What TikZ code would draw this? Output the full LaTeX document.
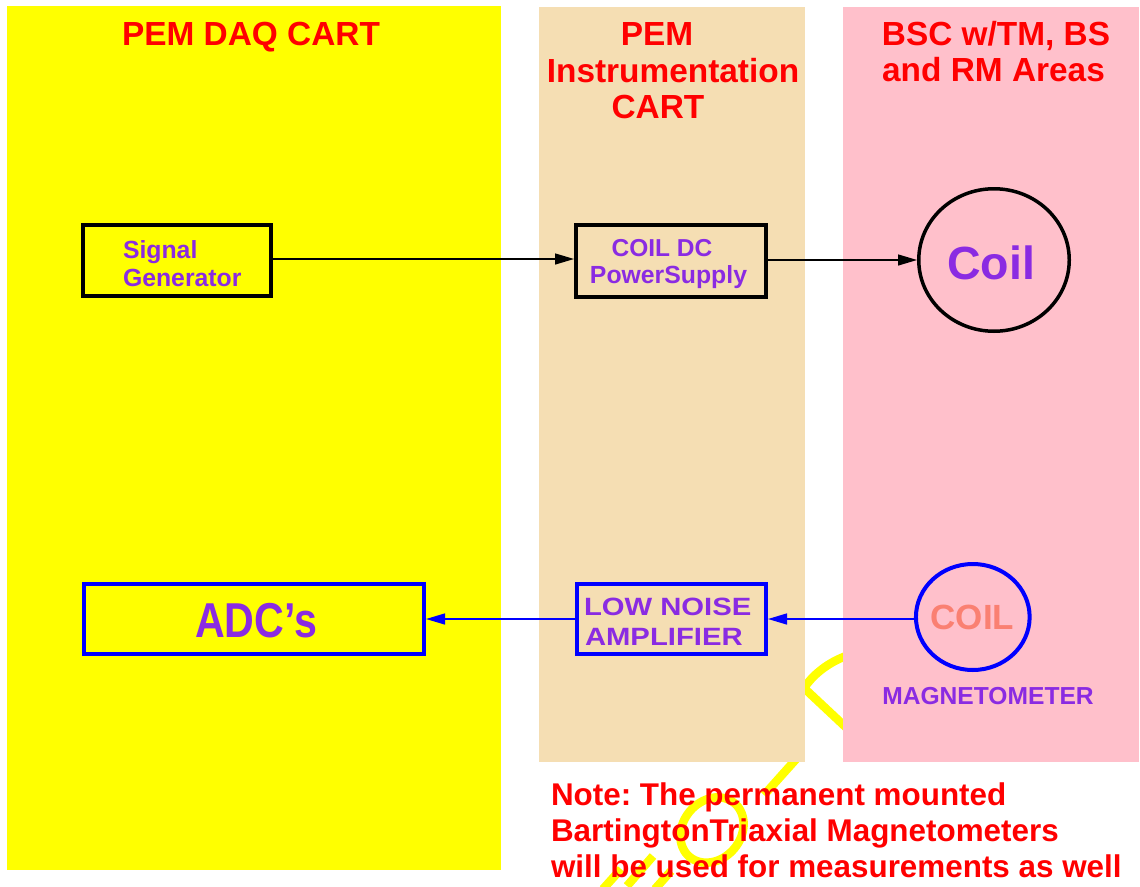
\documentclass[tikz,border=0pt]{standalone}
\usepackage{fontspec}
\setmainfont{Liberation Sans}
\usetikzlibrary{arrows.meta,shapes.geometric}
\definecolor{yel}{RGB}{255,255,0}
\definecolor{tanbg}{RGB}{245,222,179}
\definecolor{pinkbg}{RGB}{255,192,203}
\definecolor{purp}{RGB}{138,43,226}
\definecolor{salm}{RGB}{250,128,114}
\newcommand\fsz[1]{\fontsize{#1}{#1}\selectfont\bfseries}
\frenchspacing
\begin{document}
\begin{tikzpicture}[x=1pt,y=-1pt,
  txt/.style={inner sep=0pt,outer sep=0pt},
  title/.style={txt,text=red,font=\fsz{33.4},anchor=base},
  label/.style={txt,text=purp,font=\fsz{24.8}},
  box/.style={draw,line width=4pt,inner sep=0pt,rectangle},
  conn/.style={line width=1.4pt,-{Triangle[length=19pt,width=11pt]}},
  wm/.style={draw=yel,line width=8.5pt,line join=miter}
]
\useasboundingbox[fill=white] (0,0) rectangle (1140,886);
% watermark fragments (behind the panels)
\draw[wm] (712,830) ellipse [x radius=35, y radius=29, rotate=50];
\draw[wm] (764,795) -- (798,757);
\draw[wm] (852,733) -- (804,688) .. controls (815,672) and (832,660) .. (852,654);
\draw[wm] (603,889) -- (621,869);
\draw[wm] (627,886) -- (653,856);
\draw[wm] (655,889) -- (671,871);
% panels
\fill[yel] (7,6) rectangle (501,870);
\fill[tanbg] (539,7) rectangle (805,762);
\fill[pinkbg] (843,7) rectangle (1139,762);
% titles
\node[title] (t1) at (251,45) {PEM DAQ CART};
\node[title] (t2a) at (657,45) {PEM};
\node[title] (t2b) at (673,82) {Instrumentation};
\node[title] (t2c) at (658,118) {CART};
\node[title] (t3a) at (996,45) {BSC w/TM, BS};
\node[title] (t3b) at (993.5,81) {and RM Areas};
% boxes
\node[box,minimum width=188pt,minimum height=71pt] (sg) at (177,260) {};
\node[label,anchor=base west] (sgt1) at (123,258) {Signal};
\node[label,anchor=base west] (sgt2) at (123,286) {Generator};
\node[box,minimum width=190pt,minimum height=72pt] (ps) at (671,261) {};
\node[label,anchor=base,font=\fsz{24.5}] (pst1) at (662,256) {COIL DC};
\node[label,anchor=base] (pst2) at (668.5,283) {PowerSupply};
\node[draw,ellipse,line width=3.5pt,inner sep=0pt,minimum width=150.5pt,minimum height=142.5pt] (coil) at (994,260) {};
\node[txt,anchor=base,text=purp,font=\fsz{46.5}] (coilt) at (991,279) {Coil};
\node[box,draw=blue,minimum width=340pt,minimum height=70pt] (adc) at (254,619) {};
\node[txt,anchor=base,text=purp,font=\fsz{49}] (adct) at (256,637) {\scalebox{0.84}[1]{ADC’s}};
\node[box,draw=blue,minimum width=189pt,minimum height=70pt] (lna) at (671.5,619) {};
\node[label,anchor=base west,font=\fsz{25}] (lnat1) at (584,615) {\scalebox{1.17}[1]{LOW NOISE}};
\node[label,anchor=base west,font=\fsz{25}] (lnat2) at (585,645) {\scalebox{1.17}[1]{AMPLIFIER}};
\node[draw=blue,ellipse,line width=4pt,inner sep=0pt,minimum width=113.7pt,minimum height=106pt] (mag) at (972.8,617) {};
\node[txt,anchor=base,text=salm,font=\fsz{35}] (magt) at (972.5,629) {COIL};
\node[label,anchor=base,font=\fsz{24.6}] (magl) at (988,704) {MAGNETOMETER};
% connectors
\draw[conn] (sg.east |- 0,259) -- (ps.west |- 0,259);
\draw[conn] (ps.east |- 0,260) -- (coil.west);
\draw[conn,blue] (mag.west |- 0,619) -- (lna.east);
\draw[conn,blue] (lna.west) -- (adc.east);
% note
\node[txt,anchor=base west,text=red,font=\fsz{31.4}] (n1) at (551,805) {Note: The permanent mounted};
\node[txt,anchor=base west,text=red,font=\fsz{31.4}] (n2) at (551,841) {BartingtonTriaxial Magnetometers};
\node[txt,anchor=base west,text=red,font=\fsz{31.4}] (n3) at (551,877) {will be used for measurements as well};
\end{tikzpicture}
\end{document}
